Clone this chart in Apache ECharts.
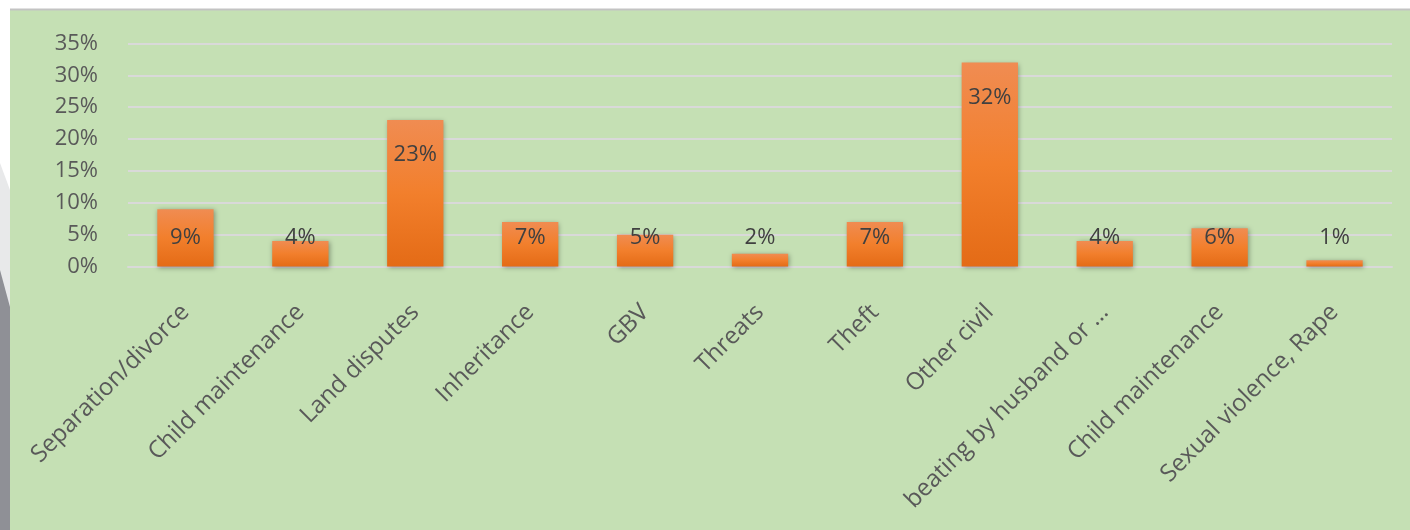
<!DOCTYPE html>
<html><head><meta charset="utf-8">
<script src="https://cdn.jsdelivr.net/npm/echarts@6/dist/echarts.min.js"></script>
<style>html,body{margin:0;padding:0;background:#fff}#c{width:1410px;height:530px}</style>
</head><body><div id="c"></div>
<script>
const categories = ["Separation/divorce", "Child maintenance", "Land disputes", "Inheritance", "GBV", "Threats", "Theft", "Other civil", "beating by husband or …", "Child maintenance", "Sexual violence, Rape"];
const values = [9, 4, 23, 7, 5, 2, 7, 32, 4, 6, 1];
const yMin = 0, yMax = 35, yStep = 5;

const FONT = "Open Sans";
const chart = echarts.init(document.getElementById('c'), null, {renderer: 'canvas'});

const barColor = new echarts.graphic.LinearGradient(0, 0, 0, 1, [
  {offset: 0, color: '#f08c52'},
  {offset: 0.5, color: '#f27f2c'},
  {offset: 1, color: '#e46b16'}
]);

const seriesData = values.map(v => ({
  value: v,
  label: v >= 10
    ? {position: 'insideTop', distance: 24}
    : {position: 'insideBottom', distance: 18}
}));

chart.setOption({
  backgroundColor: '#ffffff',
  animation: false,
  graphic: {
    elements: [
      {type: 'rect', z: -10, silent: true, shape: {x: 10, y: 10, width: 1400, height: 520}, style: {fill: '#c5e0b4'}},
      {type: 'rect', z: -9, silent: true, shape: {x: 10, y: 8.5, width: 1400, height: 2}, style: {fill: '#c3c3c3'}},
      {type: 'polygon', z: -9, silent: true, shape: {points: [[0, 163], [10, 190], [10, 530], [0, 530]]}, style: {fill: '#e8e9ea'}},
      {type: 'polygon', z: -8, silent: true, shape: {points: [[0, 270], [10, 307], [10, 530], [0, 530]]}, style: {fill: '#8f9096'}}
    ]
  },
  grid: {left: 128, right: 18, top: 43.5, bottom: 263.5, containLabel: false},
  xAxis: {
    type: 'category',
    data: categories,
    axisTick: {show: false},
    axisLine: {show: true, lineStyle: {color: '#d9d9d9', width: 2}},
    axisLabel: {
      interval: 0, rotate: 45, margin: 42,
      color: '#595959', fontFamily: FONT, fontSize: 24
    }
  },
  yAxis: {
    type: 'value',
    min: yMin, max: yMax, interval: yStep,
    axisLine: {show: false},
    axisTick: {show: false},
    splitLine: {lineStyle: {color: '#d9d9d9', width: 2}},
    axisLabel: {
      margin: 30, color: '#595959', fontFamily: FONT, fontSize: 22,
      formatter: v => v + '%'
    }
  },
  series: [{
    type: 'bar',
    data: seriesData,
    barWidth: '49%',
    itemStyle: {
      color: barColor,
      shadowColor: 'rgba(0,0,0,0.35)', shadowBlur: 5, shadowOffsetX: 1, shadowOffsetY: 1
    },
    label: {
      show: true, color: '#404040', fontFamily: FONT, fontSize: 22,
      formatter: p => p.value + '%'
    }
  }]
});
</script></body></html>
